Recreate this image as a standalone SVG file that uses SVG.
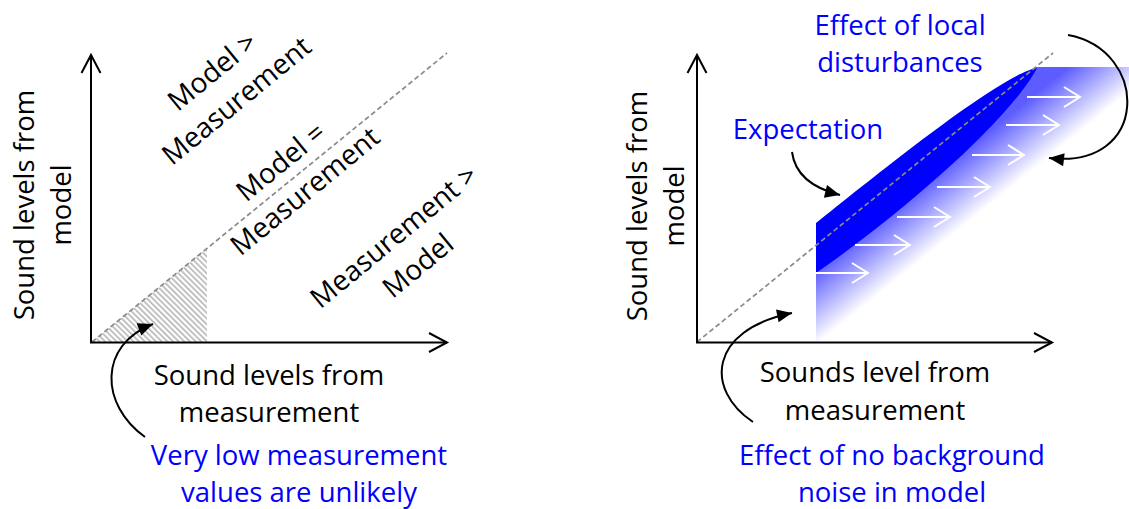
<svg xmlns="http://www.w3.org/2000/svg" width="1129" height="509" viewBox="0 0 1129 509">
<style>
text{font-family:"Open Sans","DejaVu Sans",sans-serif;font-size:27.5px;fill:#000;text-anchor:middle}
.blue{fill:#0000ff}
.rot{font-size:28px}
.axis{stroke:#000;stroke-width:2;fill:none;marker-end:url(#open)}
.diag{stroke:#8a8a8a;stroke-width:1.7;stroke-dasharray:5 3;fill:none}
.curve{stroke:#000;stroke-width:2;fill:none;marker-end:url(#solid)}
.warr{stroke:#fff;stroke-width:2;fill:none;marker-end:url(#wopen)}
</style>
<defs>
<marker id="open" markerUnits="userSpaceOnUse" markerWidth="24" markerHeight="24" refX="19" refY="10" orient="auto" overflow="visible">
<path d="M1,0.5 L19,10 L1,19.5" fill="none" stroke="#000" stroke-width="2"/>
</marker>
<marker id="wopen" markerUnits="userSpaceOnUse" markerWidth="20" markerHeight="24" refX="16" refY="10" orient="auto" overflow="visible">
<path d="M0,0 L16,10 L0,20" fill="none" stroke="#fff" stroke-width="2"/>
</marker>
<marker id="solid" markerUnits="userSpaceOnUse" markerWidth="20" markerHeight="16" refX="15" refY="6.5" orient="auto" overflow="visible">
<path d="M0,0 L15,6.5 L0,13 Z" fill="#000"/>
</marker>
<pattern id="hatch" patternUnits="userSpaceOnUse" width="4" height="4" patternTransform="rotate(-45)">
<rect x="0" y="0" width="1.6" height="4" fill="#b4b4b4"/>
</pattern>
<linearGradient id="fade" gradientUnits="userSpaceOnUse" x1="912.6" y1="192.5" x2="949" y2="237.6">
<stop offset="0" stop-color="#5c5cff"/>
<stop offset="1" stop-color="#ffffff"/>
</linearGradient>
</defs>

<g id="left-chart">
<polygon id="hatched-region" points="92,342 207,248.5 207,342" fill="url(#hatch)"/>
<line class="diag" x1="92" y1="342" x2="447" y2="53"/>
<line class="axis" x1="91" y1="343" x2="91" y2="55"/>
<line class="axis" x1="90" y1="342.5" x2="447" y2="342.5"/>
</g>

<g id="left-y-label" transform="translate(34,205) rotate(-90)">
<text x="0" y="0">Sound levels from</text>
<text x="0" y="37">model</text>
</g>
<g id="left-x-label">
<text x="269" y="385">Sound levels from</text>
<text x="269" y="422">measurement</text>
</g>
<g id="label-model-gt" transform="translate(230.5,93.5) rotate(-39.5)">
<text class="rot" x="0" y="-19">Model &gt;</text>
<text class="rot" x="0" y="19">Measurement</text>
</g>
<g id="label-model-eq" transform="translate(299,184) rotate(-39.5)">
<text class="rot" x="0" y="-19">Model =</text>
<text class="rot" x="0" y="19">Measurement</text>
</g>
<g id="label-meas-gt" transform="translate(412,258.5) rotate(-39.5)">
<text class="rot" x="0" y="-19">Measurement &gt;</text>
<text class="rot" x="0" y="19">Model</text>
</g>
<g id="label-low">
<text class="blue" x="299" y="465">Very low measurement</text>
<text class="blue" x="299" y="502">values are unlikely</text>
</g>

<g id="right-chart">
<path id="noise-gradient" d="M816,232 L816,342 L1129,342 L1129,67 L1035,67 Z" fill="url(#fade)"/>
<path id="expectation-shape" d="M816,223 L816,273 C900,215 1010,120 1037,68 C1000,74 870,180 816,223 Z" fill="#0000ff"/>
<g id="shift-arrows">
<line class="warr" x1="816" y1="273" x2="868" y2="273"/>
<line class="warr" x1="855" y1="245" x2="910" y2="245"/>
<line class="warr" x1="897" y1="217" x2="950" y2="217"/>
<line class="warr" x1="937" y1="187" x2="990" y2="187"/>
<line class="warr" x1="972" y1="155" x2="1024" y2="155"/>
<line class="warr" x1="1006" y1="125" x2="1059" y2="125"/>
<line class="warr" x1="1027" y1="97" x2="1080" y2="97"/>
</g>
<line class="diag" x1="697" y1="342" x2="1053" y2="53"/>
<line class="axis" x1="697" y1="343" x2="697" y2="55"/>
<line class="axis" x1="696" y1="342.5" x2="1052" y2="342.5"/>
</g>

<g id="right-y-label" transform="translate(647,206) rotate(-90)">
<text x="0" y="0">Sound levels from</text>
<text x="0" y="37">model</text>
</g>
<g id="right-x-label">
<text x="875" y="382">Sounds level from</text>
<text x="875" y="420">measurement</text>
</g>
<g id="label-local">
<text class="blue" x="900" y="35">Effect of local</text>
<text class="blue" x="900" y="72">disturbances</text>
</g>
<g id="label-expectation">
<text class="blue" x="808" y="139">Expectation</text>
</g>
<g id="label-background">
<text class="blue" x="892" y="465">Effect of no background</text>
<text class="blue" x="892" y="502">noise in model</text>
</g>

<g id="connectors">
<path class="curve" d="M145,437 C100,405 98,345 153,324"/>
<path class="curve" d="M792,152 C795,175 812,188 840,195"/>
<path class="curve" d="M1068,35 C1150,50 1150,170 1049,158"/>
<path class="curve" d="M753,422 C705,390 708,330 792,313"/>
</g>
</svg>
